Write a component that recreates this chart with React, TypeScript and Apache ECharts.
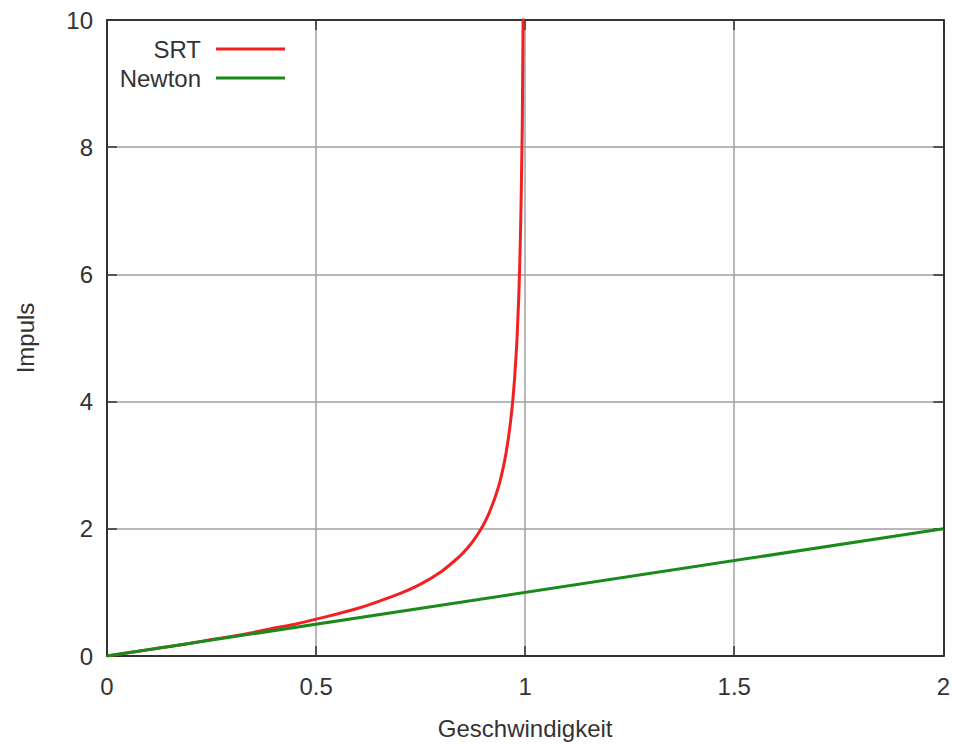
import React, { useEffect, useRef } from "react";
import * as echarts from "echarts";

// Values
const srtV = [0, 0.05, 0.1, 0.15, 0.2, 0.25, 0.3, 0.35, 0.4, 0.45, 0.5, 0.55, 0.6, 0.65, 0.7, 0.75, 0.8, 0.83, 0.85, 0.87, 0.88, 0.89, 0.9, 0.91, 0.92, 0.93, 0.94, 0.95, 0.955, 0.96, 0.965, 0.97, 0.975, 0.98, 0.983, 0.985, 0.988, 0.99, 0.992, 0.993, 0.994, 0.995, 0.9951];
const srtP = [0, 0.05, 0.1, 0.15, 0.2, 0.26, 0.31, 0.37, 0.44, 0.5, 0.58, 0.66, 0.75, 0.86, 0.98, 1.13, 1.33, 1.49, 1.61, 1.76, 1.85, 1.95, 2.06, 2.19, 2.35, 2.53, 2.75, 3.04, 3.22, 3.43, 3.68, 3.99, 4.39, 4.92, 5.38, 5.7, 6.4, 7.02, 7.86, 8.28, 9.09, 9.96, 10.1];
const newtonV = [0, 2];
const newtonP = [0, 2];
const xTicks = [0, 0.5, 1, 1.5, 2];
const yTicks = [0, 2, 4, 6, 8, 10];

const FONT = "Liberation Sans, Arial, sans-serif";

export default function App() {
  const ref = useRef<HTMLDivElement>(null);
  useEffect(() => {
    const chart = echarts.init(ref.current!, null, { renderer: "svg" });
    const labelStyle = { color: "#333", fontSize: 24, fontFamily: FONT };
    const legendCommon = {
      orient: "vertical",
      align: "right",
      right: 668,
      padding: 0,
      icon: "rect",
      itemWidth: 69,
      itemHeight: 3,
      textStyle: { ...labelStyle, padding: [0, 10, 0, 0] },
    };
    chart.setOption({
      animation: false,
      backgroundColor: "#fff",
      grid: { left: 107, right: 8, top: 20, bottom: 87, containLabel: false },
      legend: [
        { ...legendCommon, data: ["SRT"], top: 37 },
        { ...legendCommon, data: ["Newton"], top: 66 },
      ],
      xAxis: [
        {
          type: "value",
          min: 0,
          max: 2,
          interval: 0.5,
          name: "Geschwindigkeit",
          nameLocation: "middle",
          nameGap: 60,
          nameTextStyle: labelStyle,
          axisLine: { show: true, onZero: false, lineStyle: { color: "#333", width: 2 } },
          axisTick: { show: true, inside: true, length: 10, lineStyle: { color: "#333", width: 1.5 } },
          axisLabel: { ...labelStyle, margin: 18, formatter: (v: number) => (xTicks.includes(v) ? String(v) : "") },
          splitLine: { show: true, lineStyle: { color: "#a0a0a0", width: 1.5 } },
        },
        {
          type: "value",
          position: "top",
          min: 0,
          max: 2,
          interval: 0.5,
          axisLine: { show: true, onZero: false, lineStyle: { color: "#333", width: 2 } },
          axisTick: { show: true, inside: true, length: 10, lineStyle: { color: "#333", width: 1.5 } },
          axisLabel: { show: false },
          splitLine: { show: false },
        },
      ],
      yAxis: [
        {
          type: "value",
          min: 0,
          max: 10,
          interval: 2,
          name: "Impuls",
          nameLocation: "middle",
          nameGap: 70,
          nameRotate: 90,
          nameTextStyle: labelStyle,
          axisLine: { show: true, onZero: false, lineStyle: { color: "#333", width: 2 } },
          axisTick: { show: true, inside: true, length: 10, lineStyle: { color: "#333", width: 1.5 } },
          axisLabel: { ...labelStyle, margin: 14, formatter: (v: number) => (yTicks.includes(v) ? String(v) : "") },
          splitLine: { show: true, lineStyle: { color: "#a0a0a0", width: 1.5 } },
        },
        {
          type: "value",
          position: "right",
          min: 0,
          max: 10,
          interval: 2,
          axisLine: { show: true, onZero: false, lineStyle: { color: "#333", width: 2 } },
          axisTick: { show: true, inside: true, length: 10, lineStyle: { color: "#333", width: 1.5 } },
          axisLabel: { show: false },
          splitLine: { show: false },
        },
      ],
      series: [
        {
          name: "SRT",
          type: "line",
          xAxisIndex: 0,
          yAxisIndex: 0,
          data: srtV.map((v, i) => [v, srtP[i]]),
          showSymbol: false,
          symbol: "none",
          smooth: 0.2,
          clip: true,
          color: "#f22020",
          lineStyle: { color: "#f22020", width: 3 },
          z: 3,
        },
        {
          name: "Newton",
          type: "line",
          xAxisIndex: 0,
          yAxisIndex: 0,
          data: newtonV.map((v, i) => [v, newtonP[i]]),
          showSymbol: false,
          symbol: "none",
          clip: true,
          color: "#1a8a1a",
          lineStyle: { color: "#1a8a1a", width: 3 },
          z: 3,
        },
      ],
    });
    return () => chart.dispose();
  }, []);
  return <div ref={ref} style={{ width: 953, height: 745, position: "absolute", left: 0, top: 0 }} />;
}
